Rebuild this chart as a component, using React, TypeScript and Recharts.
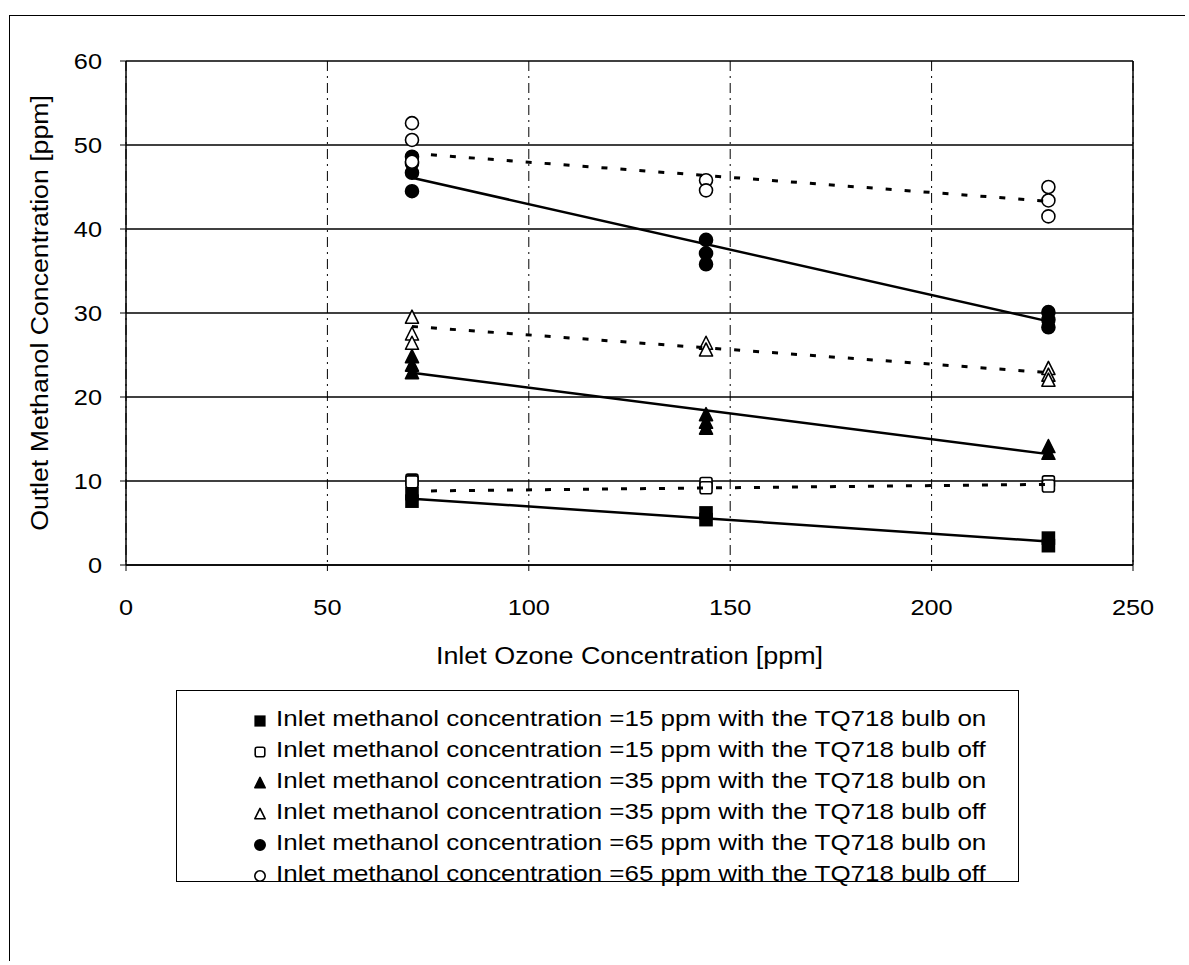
import React from 'react';
import { ScatterChart, Scatter, XAxis, YAxis, CartesianGrid, Legend, ReferenceLine } from 'recharts';

// ---- data ----
const xTicks = [0, 50, 100, 150, 200, 250];
const yTicks = [0, 10, 20, 30, 40, 50, 60];

const on15 = [
  { x: 71, y: 8.5 }, { x: 71, y: 7.6 },
  { x: 144, y: 6.2 }, { x: 144, y: 5.4 },
  { x: 229, y: 3.2 }, { x: 229, y: 2.3 },
];
const off15 = [
  { x: 71, y: 10.1 }, { x: 71, y: 9.9 },
  { x: 144, y: 9.7 }, { x: 144, y: 9.2 },
  { x: 229, y: 9.9 }, { x: 229, y: 9.4 },
];
const on35 = [
  { x: 71, y: 24.8 }, { x: 71, y: 23.8 }, { x: 71, y: 22.9 },
  { x: 144, y: 17.9 }, { x: 144, y: 17.0 }, { x: 144, y: 16.3 },
  { x: 229, y: 14.1 }, { x: 229, y: 13.3 },
];
const off35 = [
  { x: 71, y: 29.5 }, { x: 71, y: 27.5 }, { x: 71, y: 26.4 },
  { x: 144, y: 26.4 }, { x: 144, y: 25.6 },
  { x: 229, y: 23.4 }, { x: 229, y: 22.6 }, { x: 229, y: 22.0 },
];
const on65 = [
  { x: 71, y: 48.6 }, { x: 71, y: 47.8 }, { x: 71, y: 46.7 }, { x: 71, y: 44.5 },
  { x: 144, y: 38.7 }, { x: 144, y: 37.1 }, { x: 144, y: 35.8 },
  { x: 229, y: 30.1 }, { x: 229, y: 29.2 }, { x: 229, y: 28.3 },
];
const off65 = [
  { x: 71, y: 52.6 }, { x: 71, y: 50.6 }, { x: 71, y: 48.0 },
  { x: 144, y: 45.8 }, { x: 144, y: 44.6 },
  { x: 229, y: 45.0 }, { x: 229, y: 43.4 }, { x: 229, y: 41.5 },
];

// trend lines
const trendOn15 = [{ x: 71, y: 7.9 }, { x: 229, y: 2.8 }];
const trendOff15 = [{ x: 71, y: 8.8 }, { x: 229, y: 9.6 }];
const trendOn35 = [{ x: 71, y: 22.9 }, { x: 229, y: 13.2 }];
const trendOff35 = [{ x: 71, y: 28.4 }, { x: 229, y: 22.9 }];
const trendOn65 = [{ x: 71, y: 46.1 }, { x: 229, y: 29.0 }];
const trendOff65 = [{ x: 71, y: 49.0 }, { x: 229, y: 43.3 }];

const seriesNames = [
  'Inlet methanol concentration =15 ppm with the TQ718 bulb on',
  'Inlet methanol concentration =15 ppm with the TQ718 bulb off',
  'Inlet methanol concentration =35 ppm with the TQ718 bulb on',
  'Inlet methanol concentration =35 ppm with the TQ718 bulb off',
  'Inlet methanol concentration =65 ppm with the TQ718 bulb on',
  'Inlet methanol concentration =65 ppm with the TQ718 bulb off',
];
const seriesShapes = ['square', 'square', 'triangle', 'triangle', 'circle', 'circle'];
const seriesFilled = [true, false, true, false, true, false];

const FONT = '"Liberation Sans", Arial, sans-serif';

function Marker({ kind, filled, cx, cy, s = 1 }: { kind: string; filled: boolean; cx: number; cy: number; s?: number }) {
  const fill = filled ? '#000' : '#fff';
  const sw = 1.6;
  if (kind === 'square') {
    const h = 6 * s;
    return <rect x={cx - h} y={cy - h} width={2 * h} height={2 * h} rx={filled ? 0 : 2} fill={fill} stroke="#000" strokeWidth={sw} />;
  }
  if (kind === 'triangle') {
    const w = 6.5 * s;
    return <polygon points={`${cx},${cy - 7 * s} ${cx + w},${cy + 6 * s} ${cx - w},${cy + 6 * s}`} fill={fill} stroke="#000" strokeWidth={sw} strokeLinejoin="round" />;
  }
  return <circle cx={cx} cy={cy} r={6.5 * s} fill={fill} stroke="#000" strokeWidth={sw} />;
}

const makeShape = (i: number) => (props: any) => (
  <Marker kind={seriesShapes[i]} filled={seriesFilled[i]} cx={props.cx} cy={props.cy} />
);
const emptyShape = () => <g />;

const XTick = (props: any) => {
  const { x, y, payload } = props;
  return (
    <g transform={`translate(${x},${y})`}>
      <text transform="scale(1.15,1)" textAnchor="middle" dy="0.71em" fontSize={22} fontFamily={FONT} fill="#000">
        {payload.value}
      </text>
    </g>
  );
};
const YTick = (props: any) => {
  const { x, y, payload } = props;
  return (
    <g transform={`translate(${x},${y})`}>
      <text transform="scale(1.15,1)" textAnchor="end" dy="0.36em" fontSize={22} fontFamily={FONT} fill="#000">
        {payload.value}
      </text>
    </g>
  );
};

const YLabel = (props: any) => {
  const vb = props.viewBox || { x: 0, y: 61, width: 126, height: 504 };
  const cy = vb.y + vb.height / 2;
  return (
    <g transform={`translate(${vb.x + 48},${cy}) rotate(-90)`}>
      <text transform="scale(1.16,1)" textAnchor="middle" fontSize={23} fontFamily={FONT} fill="#000">
        Outlet Methanol Concentration [ppm]
      </text>
    </g>
  );
};
const XLabel = (props: any) => {
  const vb = props.viewBox || { x: 126, y: 565, width: 1007, height: 100 };
  const cx = vb.x + vb.width / 2;
  return (
    <g transform={`translate(${cx},${vb.y + 99})`}>
      <text transform="scale(1.17,1)" textAnchor="middle" fontSize={23} fontFamily={FONT} fill="#000">
        Inlet Ozone Concentration [ppm]
      </text>
    </g>
  );
};

const LegendBox = () => (
  <div
    style={{
      width: 843,
      height: 192,
      boxSizing: 'border-box',
      border: '1.5px solid #000',
      fontFamily: FONT,
      paddingTop: 12,
    }}
  >
    {seriesNames.map((name, i) => (
      <div key={name} style={{ height: 31, display: 'flex', alignItems: 'center', position: 'relative' }}>
        <svg width={20} height={20} style={{ position: 'absolute', left: 73 }}>
          <Marker kind={seriesShapes[i]} filled={seriesFilled[i]} cx={10} cy={12} s={0.8} />
        </svg>
        <span
          style={{
            position: 'absolute',
            left: 99,
            fontSize: 22,
            color: '#000',
            whiteSpace: 'nowrap',
            transform: 'scaleX(1.18)',
            transformOrigin: 'left center',
          }}
        >
          {name}
        </span>
      </div>
    ))}
  </div>
);

const seriesData = [on15, off15, on35, off35, on65, off65];
const trendData = [trendOn15, trendOff15, trendOn35, trendOff35, trendOn65, trendOff65];

export default function App() {
  return (
    <div style={{ position: 'absolute', left: 0, top: 0, width: 1189, height: 965, background: '#fff' }}>
      <div
        style={{
          position: 'absolute',
          left: 9,
          top: 15,
          width: 1175,
          height: 945,
          borderTop: '1.5px solid #000',
          borderLeft: '1.5px solid #000',
        }}
      />
      <div style={{ position: 'absolute', left: 0, top: 0 }}>
        <ScatterChart width={1189} height={965} margin={{ top: 61, right: 56, left: 0, bottom: 300 }}>
          <CartesianGrid horizontal={true} vertical={false} stroke="#000" strokeWidth={1.5} />
          <CartesianGrid horizontal={false} vertical={true} stroke="#000" strokeWidth={1} strokeDasharray="10 5 2 5" />
          <XAxis
            type="number"
            dataKey="x"
            domain={[0, 250]}
            ticks={xTicks}
            allowDataOverflow
            height={100}
            axisLine={{ stroke: '#000', strokeWidth: 1.5 }}
            tickLine={{ stroke: '#000' }}
            tickSize={6}
            tickMargin={28}
            tick={<XTick />}
            label={<XLabel />}
          />
          <YAxis
            type="number"
            dataKey="y"
            domain={[0, 60]}
            ticks={yTicks}
            allowDataOverflow
            width={126}
            axisLine={{ stroke: '#000', strokeWidth: 1.5 }}
            tickLine={{ stroke: '#000' }}
            tickSize={6}
            tickMargin={18}
            tick={<YTick />}
            label={<YLabel />}
          />
          <ReferenceLine x={250} stroke="#000" strokeWidth={1.5} />
          {seriesData.map((d, i) => (
            <Scatter
              key={'s' + i}
              name={seriesNames[i]}
              data={d}
              shape={makeShape(i)}
              isAnimationActive={false}
            />
          ))}
          {trendData.map((d, i) => (
            <Scatter
              key={'t' + i}
              data={d}
              shape={emptyShape}
              legendType="none"
              line={
                seriesFilled[i]
                  ? { stroke: '#000', strokeWidth: 2.5 }
                  : { stroke: '#000', strokeWidth: 3, strokeDasharray: '6 13' }
              }
              isAnimationActive={false}
            />
          ))}
          <Legend
            layout="horizontal"
            verticalAlign="middle"
            align="center"
            content={<LegendBox />}
            wrapperStyle={{ left: 176, top: 690, width: 843, height: 192 }}
          />
        </ScatterChart>
      </div>
    </div>
  );
}
